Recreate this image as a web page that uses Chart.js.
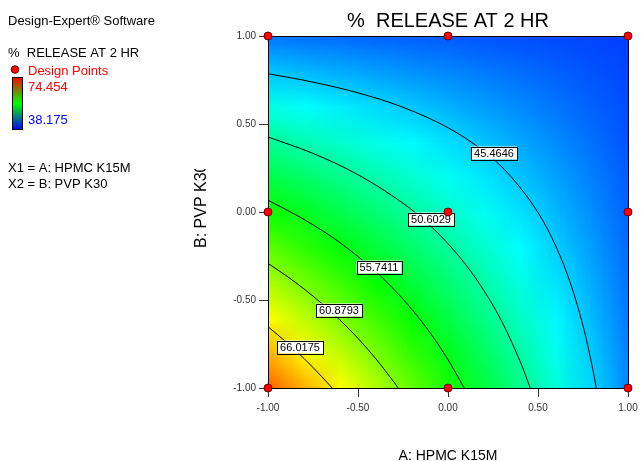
<!DOCTYPE html>
<html>
<head>
<meta charset="utf-8">
<script src="https://cdn.jsdelivr.net/npm/chart.js@4.4.0/dist/chart.umd.min.js"></script>
<style>
    html, body { margin: 0; padding: 0; background: #fff; }
    canvas { display: block; }
</style>
</head>
<body>
<canvas id="contourChart" width="641" height="461"></canvas>
<script>
// Coded factor levels of the surface grid (A across, B down from the top row)
const gridA = [-1, -0.8, -0.6, -0.4, -0.2, 0, 0.2, 0.4, 0.6, 0.8, 1];
const gridB = [1, 0.8, 0.6, 0.4, 0.2, 0, -0.2, -0.4, -0.6, -0.8, -1];

// % release at 2 hr (one row per B level)
const releaseGrid = [
    [42.40, 42.20, 42.00, 41.80, 41.60, 41.40, 41.20, 41.00, 40.80, 40.60, 40.40],
    [45.26, 44.80, 44.34, 43.88, 43.42, 42.96, 42.50, 42.04, 41.58, 41.12, 40.66],
    [48.12, 47.40, 46.68, 45.96, 45.24, 44.52, 43.80, 43.08, 42.36, 41.64, 40.92],
    [50.98, 50.00, 49.02, 48.04, 47.06, 46.08, 45.10, 44.12, 43.14, 42.16, 41.18],
    [53.84, 52.60, 51.36, 50.12, 48.88, 47.64, 46.40, 45.16, 43.92, 42.68, 41.44],
    [56.70, 55.20, 53.70, 52.20, 50.70, 49.20, 47.70, 46.20, 44.70, 43.20, 41.70],
    [59.56, 57.80, 56.04, 54.28, 52.52, 50.76, 49.00, 47.24, 45.48, 43.72, 41.96],
    [62.42, 60.40, 58.38, 56.36, 54.34, 52.32, 50.30, 48.28, 46.26, 44.24, 42.22],
    [65.28, 63.00, 60.72, 58.44, 56.16, 53.88, 51.60, 49.32, 47.04, 44.76, 42.48],
    [68.14, 65.60, 63.06, 60.52, 57.98, 55.44, 52.90, 50.36, 47.82, 45.28, 42.74],
    [71.00, 68.20, 65.40, 62.60, 59.80, 57.00, 54.20, 51.40, 48.60, 45.80, 43.00]
];

// Legend range
const responseMax = 74.454;
const responseMin = 38.175;

// Contour levels and the (A, B) points each line passes through
const contourLevels = ['45.4646', '50.6029', '55.7411', '60.8793', '66.0175'];
const contourLines = [
    [[-1, 0.786], [-0.75, 0.738], [-0.5, 0.677], [-0.25, 0.595], [0, 0.479], [0.2, 0.344], [0.35, 0.201],
     [0.5, -0.003], [0.6, -0.196], [0.68, -0.404], [0.75, -0.646], [0.8, -0.871], [0.824, -1]],
    [[-1, 0.426], [-0.75, 0.333], [-0.5, 0.212], [-0.25, 0.050], [-0.1, -0.077], [0, -0.180], [0.1, -0.301],
     [0.2, -0.447], [0.3, -0.624], [0.4, -0.847], [0.457, -1]],
    [[-1, 0.067], [-0.8, -0.042], [-0.6, -0.174], [-0.4, -0.340], [-0.3, -0.440], [-0.2, -0.554],
     [-0.1, -0.685], [0, -0.839], [0.09, -1]],
    [[-1, -0.292], [-0.9, -0.361], [-0.8, -0.437], [-0.7, -0.521], [-0.6, -0.614], [-0.5, -0.718],
     [-0.4, -0.835], [-0.3, -0.967], [-0.277, -1]],
    [[-1, -0.652], [-0.9, -0.738], [-0.8, -0.832], [-0.7, -0.937], [-0.644, -1]]
];
// Where each contour's value box sits
const contourLabelA = [0.254, -0.097, -0.383, -0.607, -0.825];
const contourLabelB = [0.338, -0.037, -0.313, -0.559, -0.765];

// Design points (3x3 factorial)
const designA = [-1, 0, 1, -1, 0, 1, -1, 0, 1];
const designB = [-1, -1, -1, 0, 0, 0, 1, 1, 1];

const FONT = '"Liberation Sans", Arial, sans-serif';

// blue -> cyan -> green -> yellow -> red
const colorStops = [[0, 0, 255], [0, 255, 255], [0, 255, 0], [255, 255, 0], [255, 0, 0]];

function surfaceColor(v) {
    let t = (v - responseMin) / (responseMax - responseMin);
    t = Math.max(0, Math.min(1, t)) * (colorStops.length - 1);
    const i = Math.min(Math.floor(t), colorStops.length - 2);
    const f = t - i;
    const a = colorStops[i], b = colorStops[i + 1];
    return [0, 1, 2].map(k => Math.round(a[k] + (b[k] - a[k]) * f));
}

const surfacePlugin = {
    id: 'surface',
    beforeDraw(chart) {
        const { ctx, chartArea, scales: { x, y } } = chart;
        ctx.save();
        ctx.fillStyle = '#fff';
        ctx.fillRect(0, 0, chart.width, chart.height);

        // paint the grid values into a tiny image, one pixel per grid node
        const off = document.createElement('canvas');
        off.width = gridA.length;
        off.height = gridB.length;
        const octx = off.getContext('2d');
        const img = octx.createImageData(off.width, off.height);
        releaseGrid.forEach((row, r) => {
            row.forEach((v, c) => {
                const [R, G, B] = surfaceColor(v);
                const p = (r * off.width + c) * 4;
                img.data[p] = R; img.data[p + 1] = G; img.data[p + 2] = B; img.data[p + 3] = 255;
            });
        });
        octx.putImageData(img, 0, 0);

        const halfA = (gridA[1] - gridA[0]) / 2;
        const halfB = (gridB[0] - gridB[1]) / 2;
        const left = x.getPixelForValue(gridA[0] - halfA);
        const right = x.getPixelForValue(gridA[gridA.length - 1] + halfA);
        const top = y.getPixelForValue(gridB[0] + halfB);
        const bottom = y.getPixelForValue(gridB[gridB.length - 1] - halfB);

        ctx.beginPath();
        ctx.rect(chartArea.left, chartArea.top, chartArea.right - chartArea.left, chartArea.bottom - chartArea.top);
        ctx.clip();
        ctx.imageSmoothingEnabled = true;
        ctx.drawImage(off, left, top, right - left, bottom - top);
        ctx.restore();
    },
    beforeDatasetsDraw(chart) {
        const { ctx, chartArea } = chart;
        const l = Math.round(chartArea.left), t = Math.round(chartArea.top);
        const r = Math.round(chartArea.right), b = Math.round(chartArea.bottom);
        ctx.save();
        ctx.strokeStyle = '#000';
        ctx.lineWidth = 1;
        ctx.strokeRect(l + 0.5, t + 0.5, r - l, b - t);
        ctx.restore();
    },
    beforeDatasetDraw(chart, args) {
        // contour values go on top of the lines but under the design points
        if (args.index !== 0) return;
        const { ctx, scales: { x, y } } = chart;
        ctx.save();
        ctx.font = '11px ' + FONT;
        ctx.textAlign = 'center';
        ctx.textBaseline = 'middle';
        contourLevels.forEach((label, i) => {
            const px = Math.round(x.getPixelForValue(contourLabelA[i]));
            const py = Math.round(y.getPixelForValue(contourLabelB[i]));
            const w = Math.ceil(ctx.measureText(label).width) + 6;
            const h = 13;
            ctx.fillStyle = '#fff';
            ctx.fillRect(px - w / 2, py - h / 2, w, h);
            ctx.strokeStyle = '#000';
            ctx.lineWidth = 1;
            ctx.strokeRect(Math.round(px - w / 2) + 0.5, Math.round(py - h / 2) + 0.5, Math.round(w), h);
            ctx.fillStyle = '#000';
            ctx.fillText(label, px, py + 0.5);
        });
        ctx.restore();
    },
    afterDraw(chart) {
        const { ctx } = chart;
        ctx.save();
        ctx.textBaseline = 'alphabetic';

        // main title
        ctx.fillStyle = '#000';
        ctx.textAlign = 'center';
        ctx.font = '20px ' + FONT;
        ctx.fillText('%  RELEASE AT 2 HR', 448, 27);

        // axis titles
        ctx.font = '14px ' + FONT;
        ctx.fillText('A: HPMC K15M', 448, 460);

        ctx.save();
        ctx.beginPath();
        ctx.rect(180, 169, 40, 100);
        ctx.clip();
        ctx.translate(206, 248);
        ctx.rotate(-Math.PI / 2);
        ctx.textAlign = 'left';
        ctx.font = '16px ' + FONT;
        ctx.fillText('B: PVP K30', 0, 0);
        ctx.restore();

        // left-hand legend
        ctx.textAlign = 'left';
        ctx.font = '13px ' + FONT;
        ctx.fillStyle = '#000';
        ctx.fillText('Design-Expert\u00AE Software', 8, 25);
        ctx.fillText('%  RELEASE AT 2 HR', 8, 57);

        ctx.beginPath();
        ctx.arc(15, 69.5, 3.8, 0, Math.PI * 2);
        ctx.fillStyle = '#ff0000';
        ctx.fill();
        ctx.strokeStyle = '#600000';
        ctx.lineWidth = 1;
        ctx.stroke();

        ctx.fillStyle = '#ff0000';
        ctx.fillText('Design Points', 28, 75);
        ctx.fillText(responseMax.toFixed(3), 28, 91);
        ctx.fillStyle = '#0000ff';
        ctx.fillText(responseMin.toFixed(3), 28, 124);

        const grad = ctx.createLinearGradient(0, 77, 0, 130);
        grad.addColorStop(0, '#ff0000');
        grad.addColorStop(0.5, '#00ff00');
        grad.addColorStop(1, '#0000ff');
        ctx.fillStyle = grad;
        ctx.fillRect(12, 77, 11, 53);
        ctx.strokeStyle = '#000';
        ctx.strokeRect(12.5, 77.5, 10, 52);

        ctx.fillStyle = '#000';
        ctx.fillText('X1 = A: HPMC K15M', 8, 172);
        ctx.fillText('X2 = B: PVP K30', 8, 188);
        ctx.restore();
    }
};

const datasets = [{
    label: 'Design Points',
    data: designA.map((a, i) => ({ x: a, y: designB[i] })),
    showLine: false,
    pointRadius: 4,
    pointBackgroundColor: '#ff0000',
    pointBorderColor: '#700000',
    pointBorderWidth: 1,
    clip: false,
    order: 0
}];
contourLines.forEach((line, i) => {
    datasets.push({
        label: contourLevels[i],
        data: line.map(p => ({ x: p[0], y: p[1] })),
        showLine: true,
        pointRadius: 0,
        borderColor: '#000',
        borderWidth: 1,
        tension: 0.35,
        order: 1
    });
});

new Chart(document.getElementById('contourChart'), {
    type: 'scatter',
    data: { datasets },
    options: {
        responsive: false,
        animation: false,
        devicePixelRatio: 1,
        layout: { padding: { top: 36, right: 13, bottom: 0, left: 0 } },
        plugins: { legend: { display: false }, tooltip: { enabled: false } },
        scales: {
            x: {
                type: 'linear',
                min: -1,
                max: 1,
                afterFit: s => { s.height = 73; s.paddingLeft = 0; s.paddingRight = 0; },
                ticks: {
                    stepSize: 0.5,
                    maxRotation: 0,
                    padding: 5,
                    color: '#333',
                    font: { family: FONT, size: 10 },
                    callback: v => Number(v).toFixed(2)
                },
                grid: { drawOnChartArea: false, tickLength: 9, color: '#333' },
                border: { color: '#000' }
            },
            y: {
                type: 'linear',
                min: -1,
                max: 1,
                afterFit: s => { s.width = 268; s.paddingTop = 0; s.paddingBottom = 0; },
                ticks: {
                    stepSize: 0.5,
                    padding: 3,
                    color: '#333',
                    font: { family: FONT, size: 10 },
                    callback: v => Number(v).toFixed(2)
                },
                grid: { drawOnChartArea: false, tickLength: 9, color: '#333' },
                border: { color: '#000' }
            }
        }
    },
    plugins: [surfacePlugin]
});
</script>
</body>
</html>
